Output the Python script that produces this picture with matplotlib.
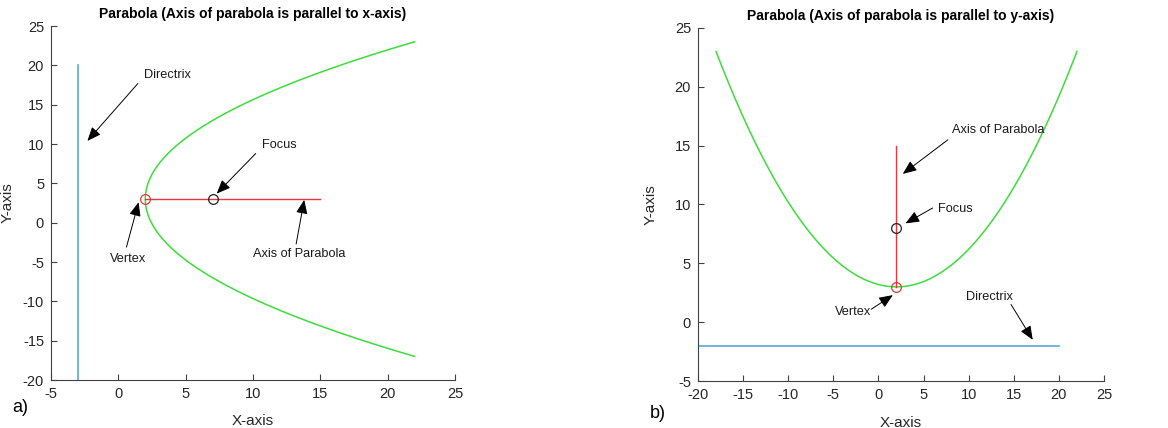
import numpy as np
import matplotlib
matplotlib.use("Agg")
import matplotlib.pyplot as plt

plt.rcParams['font.family'] = ['Liberation Sans', 'DejaVu Sans']
plt.rcParams['axes.unicode_minus'] = False

# ---- data (a): axis parallel to x-axis ----
a_vertex = [2, 3]
a_focus = [7, 3]
a_x_end = 22                     # parabola drawn from vertex out to x = 22
a_directrix_x = [-3, -3]
a_directrix_y = [-20, 20]
a_axis_x = [2, 15]
a_axis_y = [3, 3]
a_xticks = [-5, 0, 5, 10, 15, 20, 25]
a_yticks = [-20, -15, -10, -5, 0, 5, 10, 15, 20, 25]

# ---- data (b): axis parallel to y-axis ----
b_vertex = [2, 3]
b_focus = [2, 8]
b_x_range = [-18, 22]
b_directrix_x = [-20, 20]
b_directrix_y = [-2, -2]
b_axis_x = [2, 2]
b_axis_y = [3, 15]
b_xticks = [-20, -15, -10, -5, 0, 5, 10, 15, 20, 25]
b_yticks = [-5, 0, 5, 10, 15, 20, 25]

# annotations: (text, text xy, arrow tail, arrow head)
a_notes = [
    ("Directrix", (1.9, 18.8), (1.45, 17.7), (-2.3, 10.4)),
    ("Focus", (10.7, 9.9), (10.2, 8.8), (7.3, 3.7)),
    ("Vertex", (-0.6, -4.6), (0.6, -3.1), (1.5, 2.6)),
    ("Axis of Parabola", (10.0, -4.0), (13.2, -2.7), (13.8, 2.9)),
]
b_notes = [
    ("Axis of Parabola", (8.2, 16.3), (7.7, 15.5), (2.7, 12.6)),
    ("Focus", (6.6, 9.6), (6.0, 9.7), (3.0, 8.4)),
    ("Vertex", (-4.8, 0.9), (-0.8, 1.1), (1.6, 2.3)),
    ("Directrix", (9.7, 2.1), (14.7, 1.5), (17.1, -1.5)),
]

GREEN = '#3ddc3d'
BLUE = '#5aaad4'
RED = '#e8383a'
AXC = '#404040'


def style_axes(ax, xlim, ylim, xticks, yticks, ylab_x, xlab_y):
    ax.set_xlim(xlim)
    ax.set_ylim(ylim)
    ax.set_xticks(xticks)
    ax.set_yticks(yticks)
    for s in ['top', 'right']:
        ax.spines[s].set_visible(False)
    for s in ['left', 'bottom']:
        ax.spines[s].set_color(AXC)
        ax.spines[s].set_linewidth(0.8)
    ax.tick_params(direction='in', length=4, width=0.8, color=AXC,
                   labelsize=10.5, labelcolor='#262626', pad=5)
    ax.set_xlabel('X-axis', fontsize=11, color='#262626')
    ax.set_ylabel('Y-axis', fontsize=11, color='#262626')
    ax.yaxis.set_label_coords(ylab_x, 0.5)
    ax.xaxis.set_label_coords(0.5, xlab_y)


def annotate(ax, notes):
    for txt, xy_t, tail, head in notes:
        ax.text(xy_t[0], xy_t[1], txt, fontsize=9.2, color='#1a1a1a',
                ha='left', va='center')
        ax.annotate('', xy=head, xytext=tail,
                    arrowprops=dict(arrowstyle='-|>,head_length=0.6,head_width=0.25',
                                    mutation_scale=14, color='black', lw=0.7,
                                    shrinkA=0, shrinkB=0))


fig = plt.figure(figsize=(11.68, 4.28), dpi=100)

# (a) (y - k)^2 = 4p (x - h)
ax1 = fig.add_axes([0.0437, 0.1121, 0.3459, 0.827])
p_a = a_focus[0] - a_vertex[0]
half = np.sqrt(4 * p_a * (a_x_end - a_vertex[0]))
ys = np.linspace(a_vertex[1] - half, a_vertex[1] + half, 400)
xs = a_vertex[0] + (ys - a_vertex[1]) ** 2 / (4 * p_a)
ax1.plot(xs, ys, color=GREEN, lw=1.1)
ax1.plot(a_directrix_x, a_directrix_y, color=BLUE, lw=1.2)
ax1.plot(a_axis_x, a_axis_y, color=RED, lw=1.0)
ax1.plot(*a_vertex, 'o', mfc='none', mec=RED, ms=7, mew=0.9)
ax1.plot(*a_focus, 'o', mfc='none', mec='#222222', ms=7, mew=0.9)
style_axes(ax1, (-5, 25), (-20, 25), a_xticks, a_yticks, -0.089, -0.096)
ax1.set_title('Parabola (Axis of parabola is parallel to x-axis)',
              fontsize=10, fontweight='bold', pad=6)
annotate(ax1, a_notes)

# (b) (x - h)^2 = 4p (y - k)
ax2 = fig.add_axes([0.5976, 0.1098, 0.3476, 0.8248])
p_b = b_focus[1] - b_vertex[1]
xs = np.linspace(b_x_range[0], b_x_range[1], 400)
ys = b_vertex[1] + (xs - b_vertex[0]) ** 2 / (4 * p_b)
ax2.plot(xs, ys, color=GREEN, lw=1.1)
ax2.plot(b_directrix_x, b_directrix_y, color=BLUE, lw=1.2)
ax2.plot(b_axis_x, b_axis_y, color=RED, lw=1.0)
ax2.plot(*b_vertex, 'o', mfc='none', mec=RED, ms=7, mew=0.9)
ax2.plot(*b_focus, 'o', mfc='none', mec='#222222', ms=7, mew=0.9)
style_axes(ax2, (-20, 25), (-5, 25), b_xticks, b_yticks, -0.0985, -0.099)
ax2.set_title('Parabola (Axis of parabola is parallel to y-axis)',
              fontsize=10, fontweight='bold', pad=6)
annotate(ax2, b_notes)

fig.text(12 / 1168, 1 - 408 / 428, 'a)', fontsize=13, va='center', ha='left')
fig.text(650 / 1168, 1 - 413 / 428, 'b)', fontsize=13, va='center', ha='left')

fig.savefig('out.png', dpi=100, facecolor='white')
